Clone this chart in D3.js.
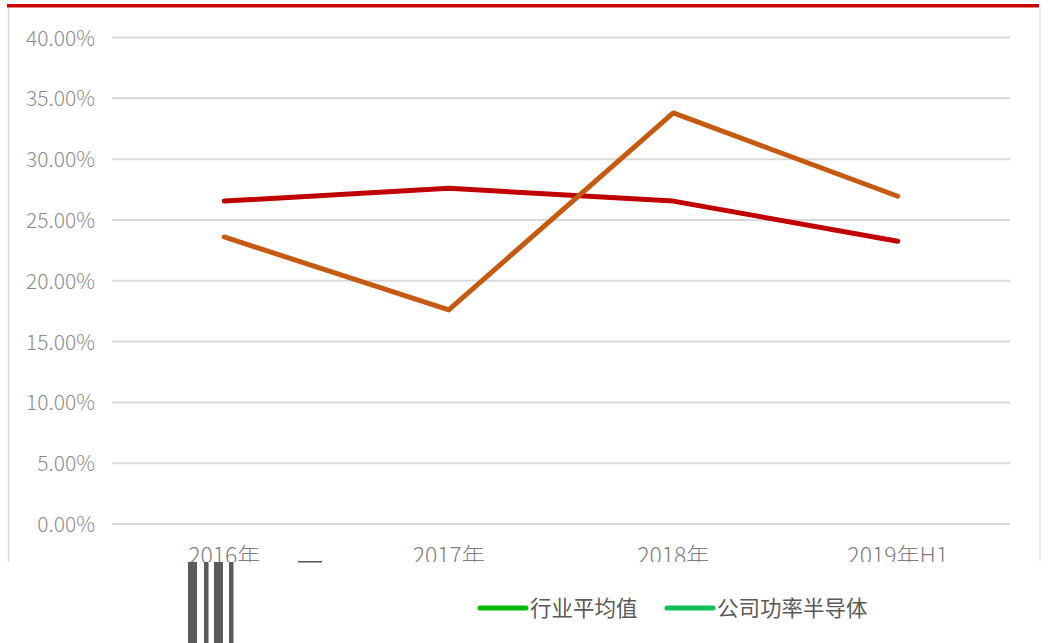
<!DOCTYPE html>
<html><head><meta charset="utf-8">
<script src="https://cdn.jsdelivr.net/npm/d3@7"></script>
<style>body{margin:0;background:#fff}svg{display:block}</style>
</head><body>
<svg id="c" width="1051" height="643"></svg>
<script>
const categories = ["2016年","2017年","2018年","2019年H1"];
const seriesNames = ["行业平均值","公司功率半导体"];
const industryAvg = [26.55, 27.6, 26.55, 23.25];
const companyPower = [23.6, 17.6, 33.8, 26.95];
const yTicks = [0,5,10,15,20,25,30,35,40];

const svg = d3.select("#c");
const W = 1051, H = 643;
const x = d3.scaleBand().domain(categories).range([112,1010]);
const y = d3.scaleLinear().domain([0,40]).range([524,37.5]);
const cjk = "'Noto Sans CJK SC', sans-serif";

// frame
svg.append("rect").attr("x",7).attr("y",4).attr("width",1032).attr("height",3.5).attr("fill","#cc0000");
svg.append("line").attr("x1",8.5).attr("x2",8.5).attr("y1",8).attr("y2",562).attr("stroke","#d9d9d9").attr("stroke-width",1.5);
svg.append("line").attr("x1",1040).attr("x2",1040).attr("y1",8).attr("y2",561).attr("stroke","#e3e3e3").attr("stroke-width",1.5);

// grid
const yAxis = d3.axisLeft(y).tickValues(yTicks).tickSize(0).tickPadding(0).tickFormat(d=>d.toFixed(2)+"%");
const ga = svg.append("g").attr("transform","translate(95,0)").call(yAxis);
ga.select(".domain").remove();
ga.selectAll("text").attr("font-family",cjk).attr("font-size",21).attr("font-weight",300)
  .attr("fill","#8c8c8c").attr("dy","0.36em");
svg.append("g").selectAll("line").data(yTicks).join("line")
  .attr("x1",112).attr("x2",1010).attr("y1",d=>y(d)).attr("y2",d=>y(d))
  .attr("stroke","#d9d9d9").attr("stroke-width",2);

// x labels
const xAxis = d3.axisBottom(x).tickSize(0).tickPadding(0);
const gx = svg.append("g").call(xAxis);
gx.select(".domain").remove();
gx.selectAll("text").attr("font-family",cjk).attr("font-size",23).attr("font-weight",300)
  .attr("fill","#808080").attr("y",564).attr("dy",0);

// lines
const line = d3.line().x((d,i)=>x(categories[i])+x.bandwidth()/2).y(d=>y(d));
svg.append("path").datum(industryAvg).attr("d",line).attr("fill","none")
  .attr("stroke","#c00000").attr("stroke-width",5).attr("stroke-linecap","round").attr("stroke-linejoin","round");
svg.append("path").datum(companyPower).attr("d",line).attr("fill","none")
  .attr("stroke","#c55a11").attr("stroke-width",5).attr("stroke-linecap","round").attr("stroke-linejoin","round");

// crop bottom
svg.append("rect").attr("x",0).attr("y",562).attr("width",W).attr("height",H-562).attr("fill","#fff");

// artifacts
const bars = [[188,9],[204,4.5],[214,9],[229,4.5]];
svg.append("g").selectAll("rect").data(bars).join("rect")
  .attr("x",d=>d[0]).attr("y",562).attr("width",d=>d[1]).attr("height",81).attr("fill","#5a5a5a");
svg.append("rect").attr("x",298).attr("y",561).attr("width",24).attr("height",1.5).attr("fill","#555");

// legend
const legendColors = ["#00b800","#12c05a"];
const legendX = [478,665];
const lg = svg.append("g");
seriesNames.forEach((n,i)=>{
  lg.append("line").attr("x1",legendX[i]+2).attr("x2",legendX[i]+48).attr("y1",608).attr("y2",608)
    .attr("stroke",legendColors[i]).attr("stroke-width",5).attr("stroke-linecap","round");
  lg.append("text").attr("x",legendX[i]+52).attr("y",608).attr("dy","0.36em")
    .attr("font-family",cjk).attr("font-size",21.5).attr("fill","#595959").text(n);
});
</script>
</body></html>
